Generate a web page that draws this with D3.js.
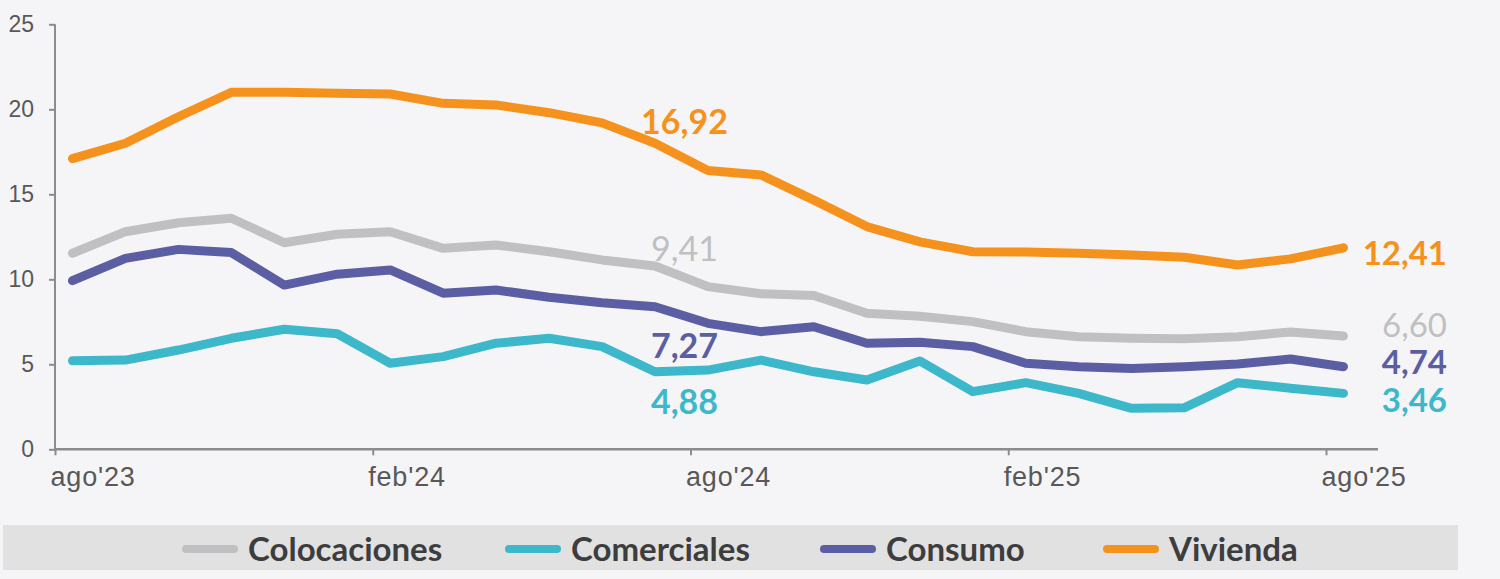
<!DOCTYPE html>
<html lang="es">
<head>
<meta charset="UTF-8">
<title>Tasa de crecimiento de colocaciones</title>
<script src="https://d3js.org/d3.v7.min.js"></script>
<style>
    html, body { margin: 0; padding: 0; background: #f5f5f7; }
    svg { display: block; font-family: Lato, "Open Sans", sans-serif; }
    .axis text { fill: #585858; }
    .axis line { stroke: #8c8c8c; stroke-width: 2px; }
</style>
</head>
<body>
<div id="chart"></div>
<script>
// months shown on the axis, one per data point
const months = ["ago'23","sep'23","oct'23","nov'23","dic'23","ene'24","feb'24","mar'24","abr'24",
    "may'24","jun'24","jul'24","ago'24","sep'24","oct'24","nov'24","dic'24","ene'25","feb'25",
    "mar'25","abr'25","may'25","jun'25","jul'25","ago'25"];
const tickIdx = [0, 6, 12, 18, 24];
const yTicks = [0, 5, 10, 15, 20, 25];

const seriesNames = ["Colocaciones", "Comerciales", "Consumo", "Vivienda"];
const colocaciones = [11.53, 12.8, 13.33, 13.59, 12.15, 12.65, 12.8, 11.82, 12.02, 11.62, 11.14, 10.78,
    9.57, 9.15, 9.05, 8.0, 7.83, 7.51, 6.92, 6.62, 6.53, 6.5, 6.62, 6.9, 6.66];
const comerciales = [5.21, 5.25, 5.84, 6.53, 7.06, 6.8, 5.06, 5.45, 6.24, 6.53, 6.04, 4.56,
    4.66, 5.25, 4.56, 4.08, 5.2, 3.39, 3.92, 3.29, 2.41, 2.45, 3.92, 3.59, 3.29];
const consumo = [9.92, 11.23, 11.76, 11.57, 9.66, 10.3, 10.55, 9.18, 9.37, 8.94, 8.62, 8.39,
    7.41, 6.92, 7.21, 6.24, 6.3, 6.04, 5.06, 4.86, 4.76, 4.86, 5.02, 5.31, 4.86];
const vivienda = [17.1, 18.0, 19.56, 21.0, 21.0, 20.95, 20.9, 20.35, 20.25, 19.8, 19.2, 18.0,
    16.4, 16.14, 14.66, 13.1, 12.2, 11.62, 11.6, 11.53, 11.43, 11.3, 10.84, 11.2, 11.85];

// annotated values: ago'24 and ago'25
const labelsMid = ["9,41", "4,88", "7,27", "16,92"];
const labelsEnd = ["6,60", "3,46", "4,74", "12,41"];
const labelMidVal = [9.41, 4.88, 7.27, 16.92];
const labelEndVal = [6.60, 3.46, 4.74, 12.41];

const colors = ["#c0bfc2", "#3db8ca", "#5c5ea3", "#f5921e"];
const values = [colocaciones, comerciales, consumo, vivienda];

const width = 1500, height = 579;

const svg = d3.select("#chart").append("svg")
    .attr("width", width)
    .attr("height", height);

const x = d3.scaleLinear().domain([0, 24]).range([55, 1326]);
const y = d3.scaleLinear().domain([0, 25]).range([449.3, 24.3]);
const pointShift = 0.33; // points sit a little after the month tick

// y axis
const yAxis = svg.append("g")
    .attr("class", "axis")
    .attr("transform", `translate(${x(0)},0)`)
    .call(d3.axisLeft(y).tickValues(yTicks).tickSize(6).tickPadding(15));
yAxis.select(".domain").remove();
yAxis.selectAll("text").style("font-size", "23px");
svg.append("line")
    .attr("x1", x(0)).attr("x2", x(0))
    .attr("y1", y(25)).attr("y2", y(0))
    .attr("stroke", "#8c8c8c").attr("stroke-width", 2);

// x axis
const xAxis = svg.append("g")
    .attr("class", "axis")
    .attr("transform", `translate(0,${y(0)})`)
    .call(d3.axisBottom(x).tickValues(tickIdx).tickSize(6).tickPadding(12)
        .tickFormat(i => months[i]));
xAxis.select(".domain").remove();
xAxis.selectAll("text")
    .attr("text-anchor", "start")
    .attr("dx", -5)
    .style("font-size", "27px")
    .style("letter-spacing", "0.8px");
svg.append("line")
    .attr("x1", x(0)).attr("x2", x(24) + 52)
    .attr("y1", y(0)).attr("y2", y(0))
    .attr("stroke", "#8c8c8c").attr("stroke-width", 2.5);

// lines
const line = d3.line()
    .x((d, i) => x(i + pointShift))
    .y(d => y(d));

values.forEach((vals, k) => {
    svg.append("path")
        .datum(vals)
        .attr("d", line)
        .attr("fill", "none")
        .attr("stroke", colors[k])
        .attr("stroke-width", 9)
        .attr("stroke-linejoin", "round")
        .attr("stroke-linecap", "round");
});

// value labels
const midOffset = [-41, 35, 20, -40];
const endOffset = [-12, 10, -7, 15];
const labelWeight = [400, 700, 700, 700];

labelsMid.forEach((t, k) => {
    svg.append("text")
        .attr("x", x(12) - 6)
        .attr("y", y(labelMidVal[k]) + midOffset[k])
        .attr("dy", "0.36em")
        .attr("text-anchor", "middle")
        .attr("fill", colors[k])
        .style("font-size", "34px")
        .style("font-weight", labelWeight[k])
        .text(t);
});

labelsEnd.forEach((t, k) => {
    svg.append("text")
        .attr("x", x(24) + 121)
        .attr("y", y(labelEndVal[k]) + endOffset[k])
        .attr("dy", "0.36em")
        .attr("text-anchor", "end")
        .attr("fill", colors[k])
        .style("font-size", "33px")
        .style("font-weight", labelWeight[k])
        .text(t);
});

// legend band
svg.append("rect")
    .attr("x", 3).attr("y", 525)
    .attr("width", 1455).attr("height", 45)
    .attr("fill", "#e1e1e2");

const legendX = [182, 505, 820, 1103];
const legend = svg.append("g").attr("transform", "translate(0,549)");
seriesNames.forEach((name, k) => {
    legend.append("line")
        .attr("x1", legendX[k] + 4).attr("x2", legendX[k] + 52)
        .attr("y1", 0).attr("y2", 0)
        .attr("stroke", colors[k])
        .attr("stroke-width", 8)
        .attr("stroke-linecap", "round");
    legend.append("text")
        .attr("x", legendX[k] + 66)
        .attr("y", 0)
        .attr("dy", "0.36em")
        .attr("fill", "#3d3d3d")
        .style("font-size", "33px")
        .style("font-weight", 700)
        .text(name);
});
</script>
</body>
</html>
